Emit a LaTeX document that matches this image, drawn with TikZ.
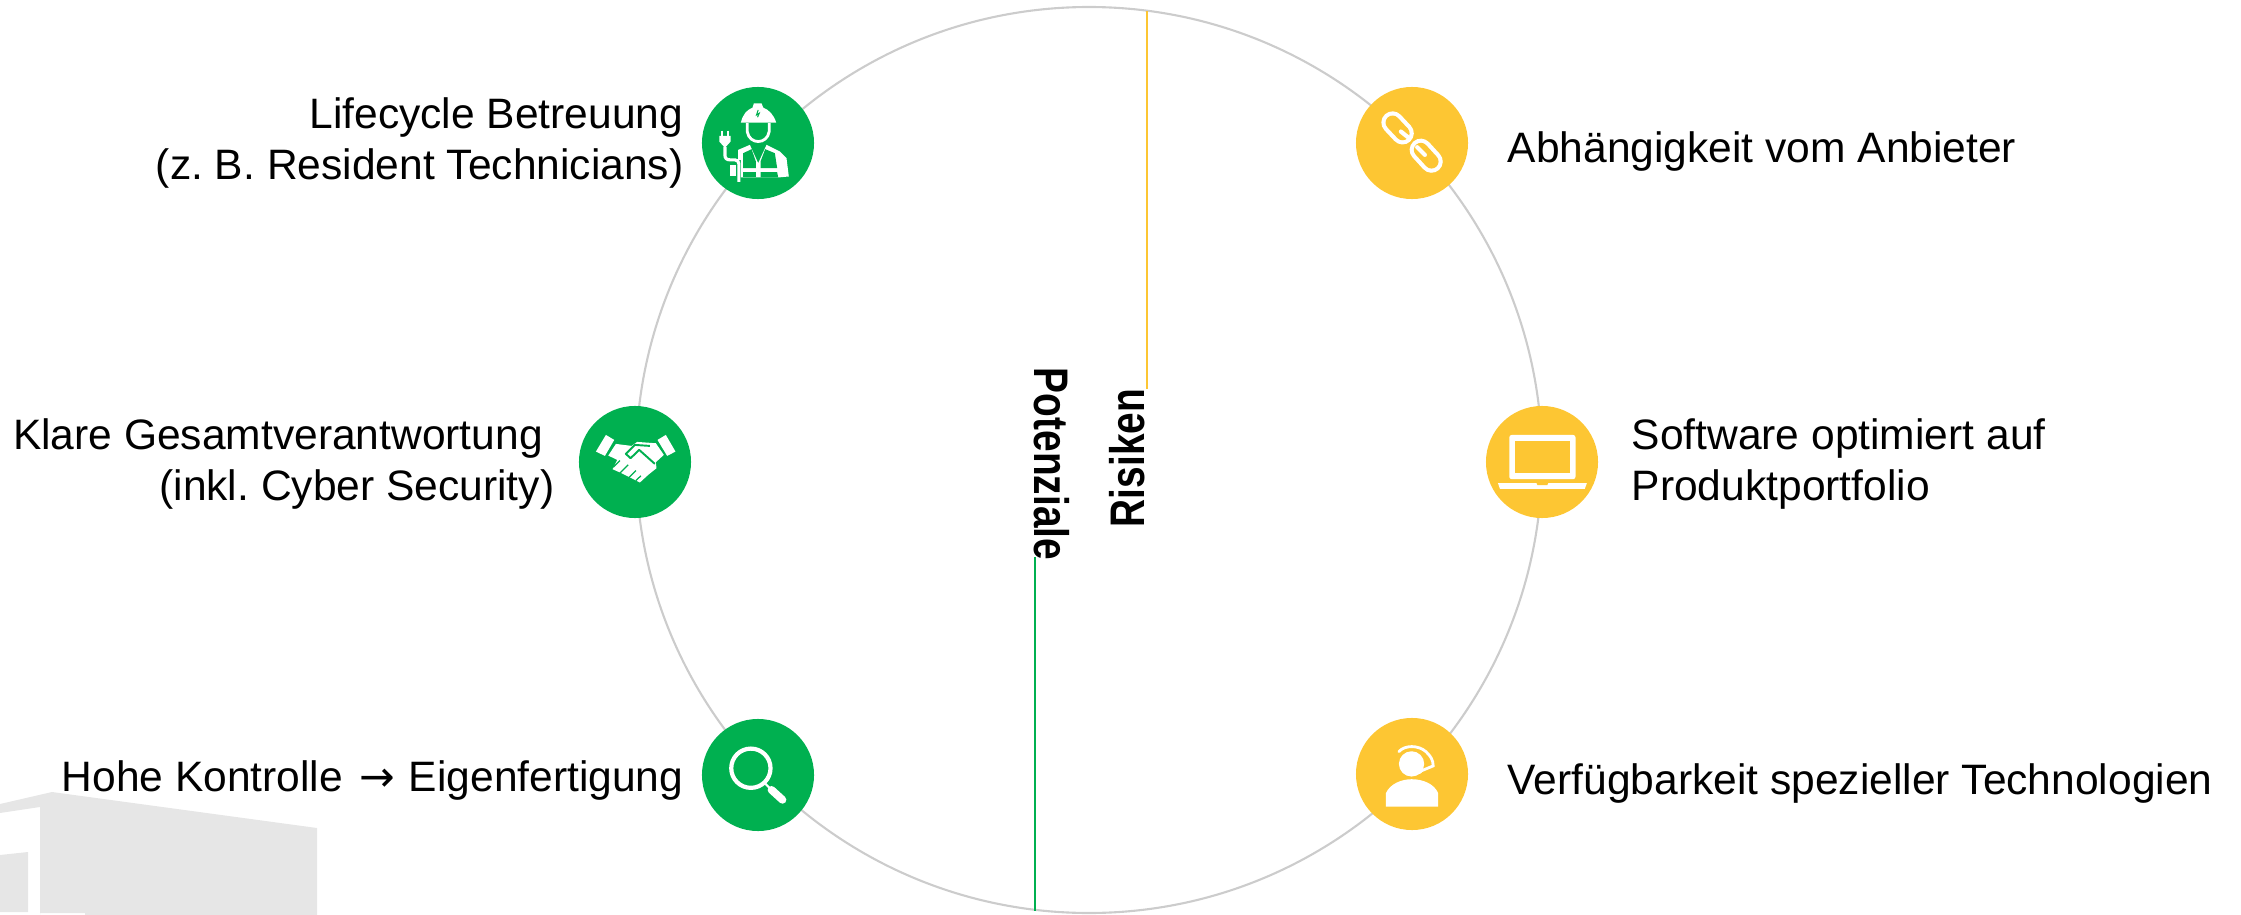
\documentclass[tikz,border=0pt]{standalone}
\usepackage{fontspec}
\setmainfont{Liberation Sans}
\newfontfamily\pfeilfont{DejaVu Sans}
\definecolor{gruen}{HTML}{00B050}
\definecolor{gelb}{HTML}{FDC633}
\definecolor{kreis}{HTML}{CCCCCC}
\definecolor{haus}{HTML}{E6E6E6}
\tikzset{
    punkt/.style = {circle , minimum size = 1.12cm , inner sep = 0pt},
    label text/.style = {font = \fontsize{12.1}{14.5}\selectfont\frenchspacing , inner sep = 0pt , text = black},
    seite/.style = {font = \fontsize{13.8}{14.5}\selectfont\bfseries , inner sep = 0pt , text = black},
    zoomed/.style = {x = 0.003333cm , y = -0.003333cm}
}

\begin{document}
\begin{tikzpicture}[x = 0.01cm , y = -0.01cm]
    \useasboundingbox (0,0) rectangle (2241,915);
    % Haus
    \fill[haus] (40,915) -- (40,807) -- (0,813) -- (0,804) -- (52,792) -- (317,828) -- (317,915) -- (85,915) -- (85,913) -- (40,913) -- cycle;
    \fill[haus] (0,855) -- (28,852) -- (28,912) -- (0,912) -- cycle;
    % Kreis
    \draw[kreis , line width = 0.6pt] (1089,460) circle (453);
    \coordinate (risikotop) at (1147,11);
    \coordinate (risikoend) at (1147,389);
    \coordinate (potenzialtop) at (1035,557);
    \coordinate (potenzialend) at (1035,911);
    \draw[gelb , line width = 0.75pt] (risikotop) -- (risikoend);
    \draw[gruen , line width = 0.75pt] (potenzialtop) -- (potenzialend);
    \node[seite , rotate = 90 , anchor = south] (risiken) at (1146,458) {\scalebox{0.8}[1]{Risiken}};
    \node[seite , rotate = -90 , anchor = south] (potenziale) at (1033,464) {\scalebox{0.8}[1]{Potenziale}};
    % Punkte
    \node[punkt , fill = gruen] (betreuung) at (758,143) {};
    \node[punkt , fill = gruen] (verantwortung) at (635,462) {};
    \node[punkt , fill = gruen] (kontrolle) at (758,775) {};
    \node[punkt , fill = gelb] (anbieter) at (1412,143) {};
    \node[punkt , fill = gelb] (software) at (1542,462) {};
    \node[punkt , fill = gelb] (technologie) at (1412,774) {};
    % Texte
    \node[label text , align = right , anchor = east] (t1) at (684,143) {Lifecycle Betreuung\\(z. B. Resident Technicians)};
    \node[label text , align = right , anchor = east] (t2) at (555,464) {Klare Gesamtverantwortung\hspace*{0.27em}\hbox{}\\(inkl. Cyber Security)};
    \node[label text , anchor = east] (t3) at (684,780) {Hohe Kontrolle\hspace{0.1em} {\pfeilfont →} \hspace{0.05em}Eigenfertigung};
    \node[label text , anchor = west] (t4) at (1507,151) {Abhängigkeit vom Anbieter};
    \node[label text , align = left , anchor = west] (t5) at (1631,464) {Software optimiert auf\\Produktportfolio};
    \node[label text , anchor = west] (t6) at (1507,783) {Verfügbarkeit spezieller Technologien};
    % Arbeiter
    \begin{scope}[shift = {(680,60)} , zoomed]
        \fill[white] (183,188) .. controls (188,165) and (200,150) .. (218,143) -- (222,130) -- (245,130) -- (250,143) .. controls (268,150) and (282,165) .. (289,188) -- cycle;
        \draw[gruen , line width = 0.3pt] (235,150) -- (230,165) -- (238,160) -- (233,172);
        \draw[white , line width = 0.8pt] (202,190) -- (202,215) .. controls (205,235) and (220,245) .. (235,245) .. controls (250,245) and (265,235) .. (268,215) -- (268,190);
        \fill[white] (175,270) -- (210,255) -- (235,310) -- (260,255) -- (300,275) -- (320,295) -- (327,350) -- (295,353) -- (183,353) -- (183,300) -- (175,300) -- cycle;
        \fill[gruen] (215,268) -- (190,280) -- (190,325) -- (228,325) -- (228,305) -- cycle;
        \fill[gruen] (256,268) -- (285,280) -- (292,325) -- (242,325) -- (242,305) -- cycle;
        \fill[gruen] (190,337) -- (228,337) -- (228,353) -- (190,353) -- cycle;
        \fill[gruen] (242,337) -- (292,337) -- (295,353) -- (242,353) -- cycle;
        \fill[white] (118,228) -- (152,228) -- (152,245) -- (135,264) -- (118,245) -- cycle;
        \draw[white , line width = 0.7pt] (126,212) -- (126,228) (145,212) -- (145,228);
        \draw[white , line width = 0.9pt] (135,262) -- (135,285) .. controls (135,295) and (140,300) .. (150,300) -- (165,300) .. controls (172,300) and (177,305) .. (177,312) -- (177,366);
        \fill[white] (150,315) -- (168,315) -- (168,350) -- (150,350) -- cycle;
    \end{scope}
    % Haende
    \begin{scope}[shift = {(560,390)} , zoomed]
        \fill[white] (138,135) -- (163,150) -- (135,198) -- (108,185) -- cycle;
        \fill[white] (318,135) -- (293,150) -- (322,198) -- (347,185) -- cycle;
        \fill[white] (168,162) -- (215,168) -- (232,156) -- (288,160) -- (312,195) -- (288,217) -- (290,235) -- (265,255) -- (240,278) -- (215,265) -- (185,250) -- (158,238) -- (172,210) -- (145,197) -- cycle;
        \draw[gruen , line width = 0.55pt , line join = round] (285,222) -- (238,180) -- (212,205) -- (198,192) -- (225,165) -- (270,168);
        \draw[gruen , line width = 0.35pt] (180,212) -- (160,232) (205,225) -- (180,250) (228,242) -- (205,265) (243,258) -- (228,272);
    \end{scope}
    % Lupe
    \begin{scope}[shift = {(680,700)} , zoomed]
        \draw[white , line width = 1.2pt] (213,205) circle (59);
        \draw[white , line width = 0.6pt] (255,250) -- (270,265);
        \draw[white , line width = 2.2pt , line cap = round] (275,270) -- (308,300);
    \end{scope}
    % Kette
    \begin{scope}[shift = {(1340,70)} , zoomed]
        \draw[white , line width = 6.4pt , line cap = round] (158,158) -- (188,190);
        \draw[gelb , line width = 4pt , line cap = round] (158,158) -- (188,190);
        \draw[white , line width = 6.4pt , line cap = round] (243,240) -- (275,275);
        \draw[gelb , line width = 4pt , line cap = round] (243,240) -- (275,275);
        \draw[white , line width = 1.2pt , line cap = round] (183,185) -- (208,205) (232,232) -- (255,255);
    \end{scope}
    % Laptop
    \begin{scope}[shift = {(1470,390)} , zoomed]
        \fill[white , rounded corners = 0.7pt] (118,268) -- (118,135) -- (317,135) -- (317,268) -- cycle;
        \fill[gelb] (136,153) rectangle (300,250);
        \fill[white] (84,280) -- (351,280) -- (345,297) -- (90,297) -- cycle;
        \fill[gelb] (200,280) -- (235,280) -- (232,286) -- (203,286) -- cycle;
    \end{scope}
    % Headset
    \begin{scope}[shift = {(1340,700)} , zoomed]
        \fill[white] (138,320) -- (138,280) .. controls (150,252) and (185,238) .. (215,238) .. controls (250,238) and (283,252) .. (295,280) -- (295,320) -- cycle;
        \fill[white] (215,192) circle (38);
        \draw[white , line width = 0.8pt , line cap = round] (177,155) .. controls (195,135) and (235,135) .. (258,155) .. controls (272,168) and (280,180) .. (280,198) -- (232,218);
        \draw[white , line width = 1.2pt , line cap = round] (225,220) -- (240,215);
    \end{scope}
\end{tikzpicture}
\end{document}
